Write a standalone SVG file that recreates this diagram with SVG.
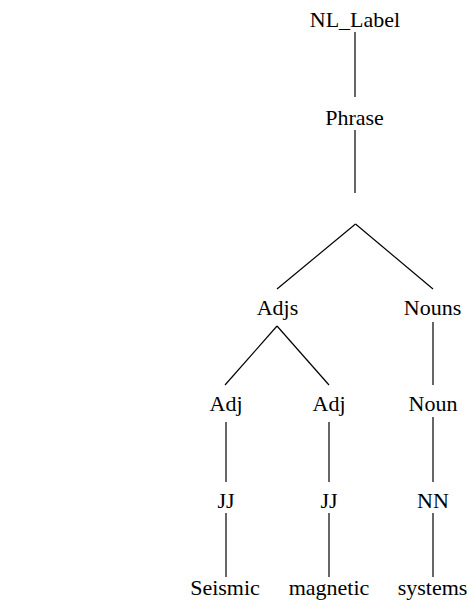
<svg xmlns="http://www.w3.org/2000/svg" width="469" height="611" viewBox="0 0 469 611">
<style>
text{font-family:'Liberation Serif',serif;font-size:22px;fill:#000;text-anchor:middle}
.e line{stroke:#000;stroke-width:1.2;fill:none}
</style>
<rect width="469" height="611" fill="#fff"/>
<g class="e" id="connectors">
<line x1="355" y1="32" x2="355" y2="97"/>
<line x1="355" y1="130" x2="355" y2="193"/>
<line x1="355.5" y1="224" x2="277" y2="289"/>
<line x1="355.5" y1="224" x2="433" y2="289"/>
<line x1="277" y1="326" x2="225" y2="385"/>
<line x1="277" y1="326" x2="329" y2="385"/>
<line x1="433" y1="322" x2="433" y2="385"/>
<line x1="226" y1="422" x2="226" y2="482"/>
<line x1="329" y1="422" x2="329" y2="482"/>
<line x1="433" y1="417" x2="433" y2="482"/>
<line x1="226" y1="513" x2="226" y2="577"/>
<line x1="329" y1="513" x2="329" y2="577"/>
<line x1="433" y1="513" x2="433" y2="577"/>
</g>
<g id="n-nllabel"><text x="355" y="27">NL_Label</text></g>
<g id="n-phrase"><text x="354.5" y="125">Phrase</text></g>
<g id="n-adjs"><text x="277.5" y="315">Adjs</text></g>
<g id="n-nouns"><text x="432.5" y="315">Nouns</text></g>
<g id="n-adj1"><text x="226" y="411">Adj</text></g>
<g id="n-adj2"><text x="329" y="411">Adj</text></g>
<g id="n-noun"><text x="433" y="411">Noun</text></g>
<g id="n-jj1"><text x="226" y="508">JJ</text></g>
<g id="n-jj2"><text x="329" y="508">JJ</text></g>
<g id="n-nn"><text x="433" y="508">NN</text></g>
<g id="n-seismic"><text x="225" y="595">Seismic</text></g>
<g id="n-magnetic"><text x="329" y="595">magnetic</text></g>
<g id="n-systems"><text x="432.5" y="595">systems</text></g>
</svg>
